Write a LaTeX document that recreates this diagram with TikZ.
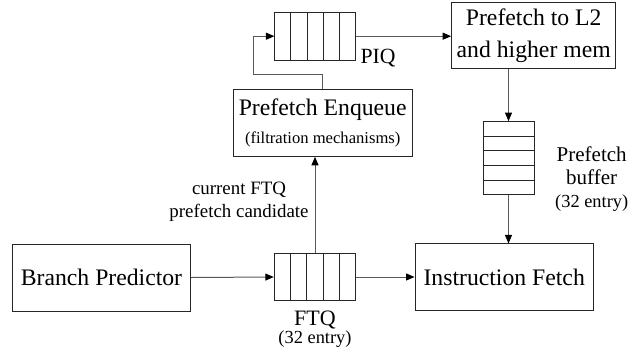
\documentclass[tikz,border=0pt]{standalone}
\usepackage{fontspec}
\setmainfont{Liberation Serif}
\usetikzlibrary{arrows.meta,calc}
\begin{document}
\begin{tikzpicture}[x=1pt,y=-1pt,
  box/.style={draw=black!85, line width=1pt, inner sep=0pt, align=center,
    font=\fontsize{23.7}{31.6}\selectfont},
  queue/.style={draw=black!85, line width=1pt, inner sep=0pt},
  conn/.style={draw=black!65, line width=1pt, -{Triangle[length=8.5pt,width=7pt,color=black]}},
  lbl/.style={inner sep=0pt, align=center}]
\useasboundingbox (0,0) rectangle (630,354);

% boxes
\node[box, minimum width=178.4pt, minimum height=67pt] (bp) at (101.5,277.5) {Branch Predictor};
\node[box, minimum width=178.3pt, minimum height=66.7pt] (if) at (504.2,277.3) {Instruction Fetch};
\node[box, minimum width=178.7pt, minimum height=67pt] (enq) at (322.7,122.8)
  {Prefetch Enqueue\\[-4pt]{\fontsize{16.6}{20}\selectfont (filtration mechanisms)}};
\node[box, minimum width=164pt, minimum height=66.3pt] (l2) at (533.7,35.8) {Prefetch to L2\\and higher mem};

% queues
\node[queue, minimum width=81.4pt, minimum height=47.4pt] (ftq) at (315,277) {};
\node[queue, minimum width=80.7pt, minimum height=47.7pt] (piq) at (315.3,36.2) {};
\node[queue, minimum width=51pt, minimum height=73.3pt] (buf) at (508.5,158.3) {};
\foreach \i in {1,2,3,4} {
  \draw[black!85, line width=1pt] ($(ftq.north west)!\i/5!(ftq.north east)$) -- ($(ftq.south west)!\i/5!(ftq.south east)$);
  \draw[black!85, line width=1pt] ($(piq.north west)!\i/5!(piq.north east)$) -- ($(piq.south west)!\i/5!(piq.south east)$);
  \draw[black!85, line width=1pt] ($(buf.north west)!\i/5!(buf.south west)$) -- ($(buf.north east)!\i/5!(buf.south east)$);
}

% labels
\node[lbl, font=\fontsize{18.9}{22.6}\selectfont] (cand) at (239,202) {current FTQ\\prefetch candidate};
\node[lbl, font=\fontsize{21.7}{24}\selectfont] (piqlbl) at (378,58) {PIQ};
\node[lbl, font=\fontsize{22}{22}\selectfont] (ftqlbl) at (315,329)
  {FTQ\\[-4pt]{\fontsize{18.4}{20}\selectfont(32 entry)}};
\node[lbl, font=\fontsize{21}{23}\selectfont] (buflbl) at (591.7,179)
  {Prefetch\\buffer\\{\fontsize{18.4}{20}\selectfont(32 entry)}};

% connectors
\coordinate (fbk) at (253.3,74);
\draw[conn] (bp.east) -- (ftq.west);
\draw[conn] (ftq.east) -- (ftq.east -| if.west);
\draw[conn] (ftq.north) -- (ftq.north |- enq.south);
\draw[conn] (enq.north) -- (enq.north |- fbk) -- (fbk) |- (piq.west);
\draw[conn] (piq.east) -- (piq.east -| l2.west);
\draw[conn] (buf.north |- l2.south) -- (buf.north);
\draw[conn] (buf.south) -- (buf.south |- if.north);
\end{tikzpicture}
\end{document}
